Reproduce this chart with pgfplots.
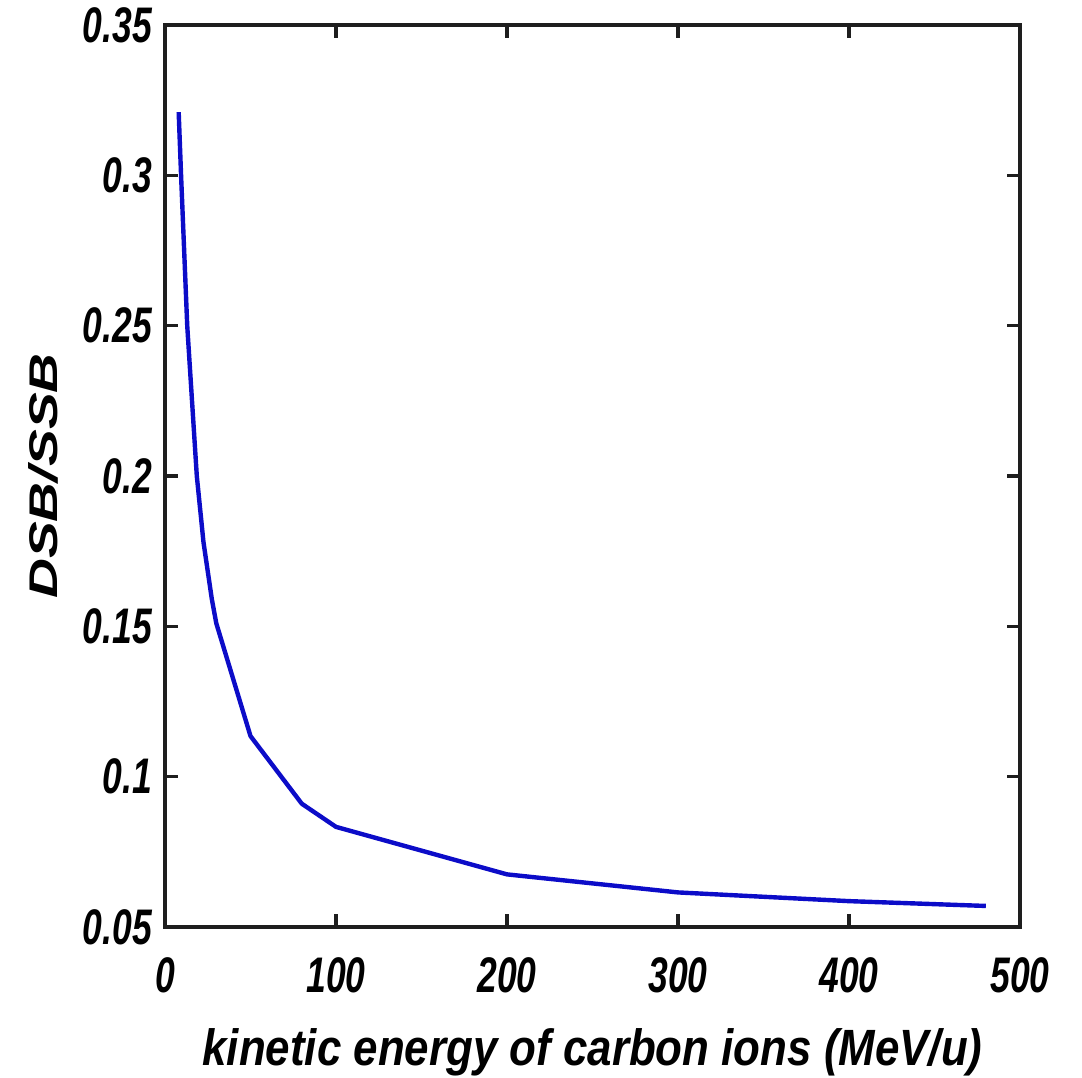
\documentclass[border=0pt]{standalone}
\usepackage{fontspec}
\usepackage{pgfplots}
\pgfplotsset{compat=1.18}
\newfontfamily\tickfont[FakeStretch=0.71]{Liberation Sans}
\newfontfamily\xlabfont[FakeStretch=0.86]{Liberation Sans}
\newfontfamily\ylabfont[FakeStretch=1.38]{Liberation Sans}
\definecolor{lineblue}{RGB}{12,12,200}
\definecolor{axisgray}{RGB}{30,30,30}
\begin{document}
\begin{tikzpicture}
\begin{axis}[
  at={(165pt,151pt)}, anchor=south west,
  scale only axis, width=855pt, height=902pt,
  xmin=0, xmax=500, ymin=0.05, ymax=0.35,
  axis line style={axisgray, line width=3.4pt},
  every tick/.style={axisgray, line width=3.4pt},
  major tick length=13pt,
  tick align=inside,
  xtick={0,100,200,300,400,500},
  xticklabels={0,100,200,300,400,500},
  ytick={0.05,0.1,0.15,0.2,0.25,0.3,0.35},
  yticklabels={0.05,0.1,0.15,0.2,0.25,0.3,0.35},
  xticklabel style={font=\tickfont\fontsize{50}{56}\selectfont\bfseries\itshape, anchor=north, inner sep=0pt, yshift=-30pt},
  yticklabel style={font=\tickfont\fontsize{50}{56}\selectfont\bfseries\itshape, anchor=east, inner sep=0pt, xshift=-13pt},
  xlabel={kinetic energy of carbon ions (MeV/u)},
  ylabel={DSB/SSB},
  xlabel style={font=\xlabfont\fontsize{51}{58}\selectfont\bfseries\itshape, at={(axis description cs:0.5,-0.153)}, anchor=base, inner sep=0pt},
  ylabel style={font=\ylabfont\fontsize{40}{46}\selectfont\bfseries\itshape, at={(axis description cs:-0.1263,0.5)}, rotate=0, anchor=base, inner sep=0pt},
  clip=false,
]
\addplot[lineblue, line width=4.4pt, line join=round] coordinates {
(8,0.321) (9.4,0.300) (13,0.250) (18.6,0.200) (22.5,0.178) (27.4,0.159)
(30,0.151) (50,0.1135) (80,0.091) (100,0.0833) (200,0.0675)
(300,0.0615) (400,0.0586) (480,0.057)
};
\end{axis}
\pgfresetboundingbox
\useasboundingbox (0,0) rectangle (1082pt,1078pt);
\end{tikzpicture}
\end{document}
